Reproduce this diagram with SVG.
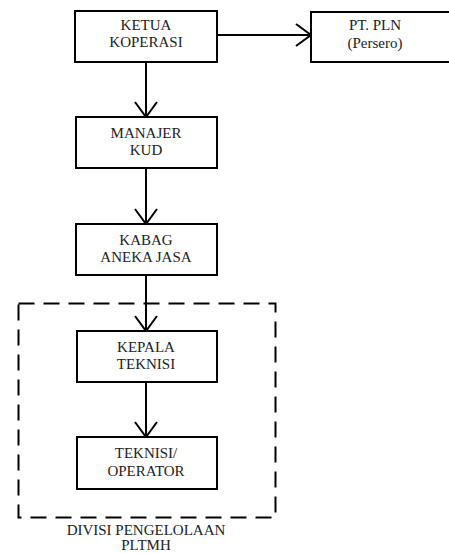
<svg xmlns="http://www.w3.org/2000/svg" width="449" height="553" viewBox="0 0 449 553">
<style>
.box{fill:#fff;stroke:#000;stroke-width:2}
.t{font-family:'Liberation Serif',serif;font-size:15px;fill:#222;text-anchor:middle}
.c{stroke:#000;stroke-width:2;fill:none}
</style>
<defs>
<marker id="ah" markerUnits="userSpaceOnUse" markerWidth="30" markerHeight="30" refX="16" refY="12" orient="auto">
<path d="M1,1 L16,12 L1,23" fill="none" stroke="#000" stroke-width="2"/>
</marker>
</defs>
<rect x="0" y="0" width="449" height="553" fill="#fff"/>
<g id="divisi">
<rect x="18.5" y="303.5" width="257" height="214" fill="none" stroke="#000" stroke-width="2" stroke-dasharray="16,9"/>
<text class="t" x="146" y="535">DIVISI PENGELOLAAN</text>
<text class="t" x="146" y="550">PLTMH</text>
</g>
<g id="connectors">
<line class="c" x1="146" y1="62" x2="146" y2="117" marker-end="url(#ah)"/>
<line class="c" x1="217" y1="35" x2="311" y2="35" marker-end="url(#ah)"/>
<line class="c" x1="146" y1="168" x2="146" y2="224" marker-end="url(#ah)"/>
<line class="c" x1="146" y1="275" x2="146" y2="331" marker-end="url(#ah)"/>
<line class="c" x1="146" y1="382" x2="146" y2="437" marker-end="url(#ah)"/>
</g>
<g id="ketua">
<rect class="box" x="75" y="11" width="142" height="51"/>
<text class="t" x="146" y="30">KETUA</text>
<text class="t" x="146" y="47">KOPERASI</text>
</g>
<g id="pln">
<rect class="box" x="311" y="12" width="145" height="50"/>
<text class="t" x="375" y="30">PT. PLN</text>
<text class="t" x="375" y="48">(Persero)</text>
</g>
<g id="manajer">
<rect class="box" x="76" y="117" width="141" height="51"/>
<text class="t" x="146" y="138">MANAJER</text>
<text class="t" x="146" y="155">KUD</text>
</g>
<g id="kabag">
<rect class="box" x="76" y="224" width="141" height="51"/>
<text class="t" x="146" y="245">KABAG</text>
<text class="t" x="146" y="262">ANEKA JASA</text>
</g>
<g id="kepala">
<rect class="box" x="77" y="331" width="140" height="51"/>
<text class="t" x="146" y="352">KEPALA</text>
<text class="t" x="146" y="369">TEKNISI</text>
</g>
<g id="operator">
<rect class="box" x="77" y="437" width="140" height="52"/>
<text class="t" x="146" y="458">TEKNISI/</text>
<text class="t" x="146" y="476">OPERATOR</text>
</g>
</svg>
